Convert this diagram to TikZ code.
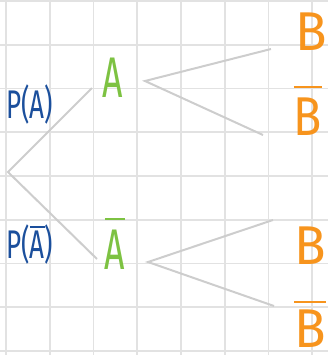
\documentclass[tikz,border=0pt]{standalone}
\usepackage{fontspec}
\usepackage{graphicx}
\setmainfont{Fira Sans}
\usetikzlibrary{positioning}
\definecolor{gridgray}{HTML}{E2E2E2}
\definecolor{branch}{HTML}{CDCDCD}
\definecolor{navy}{HTML}{1B4F9C}
\definecolor{leaf}{HTML}{7DC242}
\definecolor{orange}{HTML}{F7941D}
\newcommand{\hand}[2]{\scalebox{#1}[1]{#2}}
\newcommand{\nbar}[2][7pt]{\leavevmode\vbox{\hrule height 1.6pt\kern#1\hbox{#2}}}

\begin{document}
\begin{tikzpicture}[
  x=0.75pt,y=-0.75pt,
  gridline/.style={draw=gridgray,line width=1.2pt},
  edge/.style={draw=branch,line width=1.5pt},
  prob/.style={text=navy,font=\fontsize{30}{30}\selectfont,inner sep=0pt,anchor=base west},
  evA/.style={text=leaf,font=\fontsize{43}{43}\selectfont,inner sep=0pt,anchor=base},
  evB/.style={text=orange,font=\fontsize{41}{41}\selectfont,inner sep=0pt,anchor=base}
]
\useasboundingbox (0,0) rectangle (328,355);
% grid
\foreach \k in {0,...,7} \draw[gridline] (6+43.75*\k,0) -- (6+43.75*\k,355);
\foreach \k in {0,...,8} \draw[gridline] (0,1+43.75*\k) -- (328,1+43.75*\k);
% labels
\node[prob] (pa) at (6,118) {\hand{0.65}{P(A)}};
\node[prob] (pna) at (6,258) {\hand{0.65}{P(\nbar[2pt]{A})}};
\node[evA] (a) at (113,97) {\hand{0.62}{A}};
\node[evA] (na) at (115,269) {\hand{0.62}{\nbar{A}}};
\node[evB] (b1) at (311,50) {\hand{0.95}{B}};
\node[evB] (nb1) at (308,135) {\hand{0.85}{\nbar{B}}};
\node[evB] (b2) at (310,264) {\hand{0.95}{B}};
\node[evB] (nb2) at (310,347) {\hand{0.95}{\nbar[5pt]{B}}};
% branch ends
\coordinate (root) at (8,172);
\coordinate (ain) at (92,88);
\coordinate (aout) at (145,81);
\coordinate (nain) at (97,259);
\coordinate (naout) at (148,262);
\coordinate (b1in) at (271,49);
\coordinate (nb1in) at (263,135);
\coordinate (b2in) at (273,220);
\coordinate (nb2in) at (274,306);
% tree
\draw[edge] (ain) -- (root) -- (nain);
\draw[edge] (b1in) -- (aout) -- (nb1in);
\draw[edge] (b2in) -- (naout) -- (nb2in);
\end{tikzpicture}
\end{document}
